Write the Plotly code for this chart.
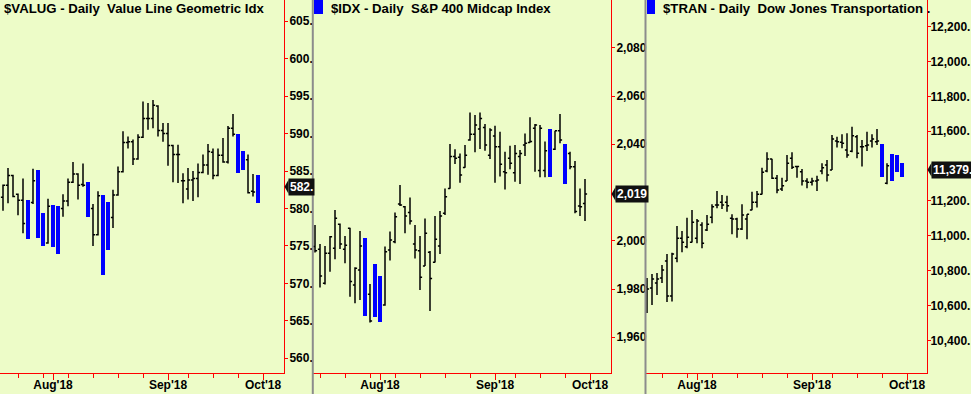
import plotly.graph_objects as go

# ---------------- data ----------------
axis_dates = [
    "2018-07-13", "2018-07-16", "2018-07-17", "2018-07-18", "2018-07-19", "2018-07-20",
    "2018-07-23", "2018-07-24", "2018-07-25", "2018-07-26", "2018-07-27", "2018-07-30",
    "2018-07-31", "2018-08-01", "2018-08-02", "2018-08-03", "2018-08-06", "2018-08-07",
    "2018-08-08", "2018-08-09", "2018-08-10", "2018-08-13", "2018-08-14", "2018-08-15",
    "2018-08-16", "2018-08-17", "2018-08-20", "2018-08-21", "2018-08-22", "2018-08-23",
    "2018-08-24", "2018-08-27", "2018-08-28", "2018-08-29", "2018-08-30", "2018-08-31",
    "2018-09-04", "2018-09-05", "2018-09-06", "2018-09-07", "2018-09-10", "2018-09-11",
    "2018-09-12", "2018-09-13", "2018-09-14", "2018-09-17", "2018-09-18", "2018-09-19",
    "2018-09-20", "2018-09-21", "2018-09-24", "2018-09-25", "2018-09-26", "2018-09-27",
    "2018-09-28", "2018-10-01", "2018-10-02", "2018-10-03", "2018-10-04", "2018-10-05",
]
month_tick_dates = ["2018-08-01", "2018-09-04", "2018-10-01"]
month_tick_labels = ["Aug'18", "Sep'18", "Oct'18"]
week_tick_dates = ["2018-07-16", "2018-07-23", "2018-07-30", "2018-08-06", "2018-08-13",
                   "2018-08-20", "2018-08-27", "2018-09-10", "2018-09-17", "2018-09-24"]

# $VALUG  (starts 2018-07-18)
valug_start = "2018-07-18"
valug_open = [581.5, 583.1, 584.4, 581.9, 581.1, 580.8, 580.8, 584.6, 579.0, 575.4,
              580.1, 579.8, 580.0, 581.0, 583.5, 584.6, 583.2, 583.1, 580.0, 576.5,
              581.2, 580.3, 578.8, 581.8, 584.9, 588.8, 588.9, 586.6, 589.5, 592.0,
              592.0, 593.7, 590.4, 590.0, 588.4, 587.2, 583.7, 582.6, 583.8, 584.0,
              584.8, 585.8, 587.5, 584.4, 587.1, 586.2, 590.7, 589.6, 587.4, 586.5,
              582.3, 584.2]
valug_high = [583.2, 585.4, 584.5, 582.0, 584.0, 581.1, 585.3, 585.1, 579.4, 581.3,
              580.5, 580.3, 581.9, 584.0, 586.2, 584.7, 586.0, 583.5, 580.6, 582.3,
              581.8, 580.9, 582.5, 585.6, 590.3, 589.6, 589.2, 589.9, 594.3, 594.1,
              594.5, 593.8, 591.4, 591.4, 588.5, 588.5, 584.7, 585.4, 585.0, 586.0,
              587.2, 588.6, 588.0, 588.0, 589.4, 591.0, 592.6, 590.0, 587.7, 587.2,
              584.6, 584.5]
valug_low = [579.7, 580.7, 581.5, 579.1, 576.7, 575.9, 580.6, 576.1, 575.0, 575.3,
             574.9, 573.9, 578.9, 580.3, 583.4, 581.2, 582.9, 578.8, 575.0, 576.4,
             571.1, 574.4, 577.4, 581.7, 584.8, 588.0, 585.8, 586.5, 589.4, 590.5,
             590.7, 589.6, 588.9, 585.7, 583.5, 583.4, 580.7, 581.2, 581.0, 581.5,
             584.7, 584.5, 583.9, 584.3, 586.1, 586.0, 589.6, 584.8, 585.2, 582.0,
             581.6, 580.7]
valug_close = [583.1, 584.4, 581.6, 581.1, 578.0, 576.3, 583.7, 576.6, 575.4, 580.3,
               575.3, 574.4, 581.0, 583.5, 584.6, 583.1, 583.1, 579.2, 576.5, 581.7,
               571.8, 575.0, 581.8, 584.9, 588.8, 588.9, 586.6, 589.5, 592.0, 592.0,
               593.8, 590.4, 590.0, 588.4, 587.2, 587.2, 583.7, 583.8, 584.0, 584.8,
               585.8, 587.6, 584.4, 587.1, 586.2, 590.7, 589.9, 585.3, 585.6, 582.1,
               582.2, 582.9]
valug_blue = [0, 0, 0, 0, 0, 1, 0, 1, 1, 0, 1, 1, 0, 0, 0, 0, 0, 1, 0, 0,
              1, 1, 0, 0, 0, 0, 0, 0, 0, 0, 0, 0, 0, 0, 0, 0, 0, 0, 0, 0,
              0, 0, 0, 0, 0, 0, 0, 1, 1, 0, 0, 1]

# $IDX  (starts 2018-07-13)
idx_start = "2018-07-13"
idx_open = [1997.6, 1996.5, 1982.4, 1994.8, 1996.9, 2006.9, 1996.5, 2005.2, 1981.7, 1987.9,
            2000.5, 1977.8, 1989.5, 1984.5, 1973.4, 1996.2, 1999.6, 2015.2, 2014.1, 2011.7,
            1998.7, 1995.9, 1989.6, 1995.2, 1991.1, 1997.8, 2011.4, 2021.7, 2034.9, 2034.6,
            2030.4, 2041.8, 2044.2, 2046.3, 2047.0, 2035.5, 2043.4, 2039.0, 2028.6, 2034.2,
            2028.2, 2034.9, 2039.7, 2040.7, 2046.6, 2029.1, 2029.1, 2045.5, 2037.9, 2045.6,
            2039.5, 2036.2, 2030.7, 2014.4, 2015.5]
idx_high = [2006.5, 1998.7, 1997.8, 2002.0, 2012.8, 2007.2, 2002.0, 2005.4, 1989.0, 2004.1,
            2001.3, 1982.1, 1990.4, 1985.4, 1997.6, 2003.8, 2011.7, 2023.1, 2014.4, 2017.9,
            2006.5, 2002.0, 2009.2, 1995.8, 2010.3, 2012.3, 2021.7, 2040.1, 2037.9, 2036.2,
            2039.7, 2053.2, 2052.1, 2053.2, 2048.4, 2046.6, 2047.7, 2045.2, 2036.9, 2039.4,
            2039.7, 2037.6, 2044.5, 2051.2, 2048.4, 2048.0, 2041.1, 2046.3, 2045.6, 2052.5,
            2040.1, 2036.9, 2033.1, 2021.7, 2025.6]
idx_low = [1995.1, 1980.6, 1981.9, 1987.2, 1992.3, 1996.6, 1990.7, 1976.8, 1974.1, 1975.5,
           1969.0, 1966.1, 1968.6, 1966.5, 1973.1, 1991.8, 1999.0, 2014.4, 2003.1, 2006.8,
           1992.7, 1979.6, 1989.5, 1970.9, 1991.0, 1994.5, 2010.7, 2021.6, 2031.8, 2024.1,
           2030.3, 2041.5, 2036.7, 2038.0, 2037.3, 2033.9, 2024.1, 2026.6, 2021.3, 2029.6,
           2024.5, 2023.5, 2035.1, 2040.6, 2028.6, 2026.3, 2026.3, 2026.6, 2037.6, 2040.4,
           2023.4, 2029.6, 2011.4, 2010.3, 2008.2]
idx_close = [1995.9, 1985.4, 1994.8, 2001.7, 2009.3, 1998.7, 1998.1, 1983.1, 1988.6, 1997.8,
             1970.0, 1966.8, 1969.5, 1967.5, 1995.5, 2000.3, 2010.0, 2014.8, 2010.3, 2008.2,
             1996.2, 1984.9, 2003.1, 1984.4, 2000.6, 2010.3, 2018.3, 2034.9, 2034.2, 2027.3,
             2035.5, 2044.2, 2048.0, 2050.7, 2039.7, 2045.9, 2039.0, 2031.7, 2028.2, 2032.1,
             2036.2, 2036.2, 2040.4, 2041.1, 2048.0, 2046.6, 2037.3, 2027.5, 2045.6, 2041.8,
             2024.2, 2030.7, 2012.1, 2014.1, 2019.4]
idx_blue = [0, 0, 0, 0, 0, 0, 0, 0, 0, 0, 1, 0, 1, 1, 0, 0, 0, 0, 0, 0,
            0, 0, 0, 0, 0, 0, 0, 0, 0, 0, 0, 0, 0, 0, 0, 0, 0, 0, 0, 0,
            0, 0, 0, 0, 0, 0, 0, 1, 0, 0, 1, 0, 0, 0, 0]

# $TRAN  (starts 2018-07-18)
tran_start = "2018-07-18"
tran_open = [10706, 10700, 10729, 10758, 10855, 10654, 10871, 10986, 10937, 10963,
             10986, 11062, 11033, 11106, 11177, 11192, 11192, 11100, 11096, 11039,
             11096, 11148, 11192, 11238, 11372, 11441, 11330, 11269, 11315, 11445,
             11397, 11368, 11315, 11307, 11315, 11372, 11406, 11378, 11544, 11537,
             11492, 11485, 11569, 11511, 11517, 11544, 11540, 11520, 11301, 11462,
             11458, 11410]
tran_high = [10758, 10781, 10786, 10832, 10895, 10903, 11056, 11027, 11104, 11148,
             11096, 11077, 11119, 11181, 11257, 11234, 11230, 11123, 11104, 11181,
             11123, 11253, 11257, 11391, 11479, 11442, 11349, 11333, 11464, 11479,
             11402, 11383, 11330, 11333, 11345, 11416, 11435, 11578, 11569, 11583,
             11588, 11626, 11578, 11550, 11597, 11583, 11613, 11525, 11416, 11468,
             11464, 11416]
tran_low = [10557, 10603, 10660, 10729, 10620, 10622, 10848, 10905, 10928, 10962,
            10957, 10928, 11027, 11072, 11158, 11154, 11138, 11009, 10989, 11033,
            10980, 11147, 11162, 11237, 11364, 11326, 11244, 11257, 11314, 11383,
            11333, 11288, 11273, 11288, 11257, 11353, 11311, 11377, 11506, 11502,
            11448, 11479, 11445, 11397, 11487, 11506, 11521, 11339, 11296, 11314,
            11364, 11339]
tran_close = [10695, 10752, 10752, 10804, 10654, 10895, 10986, 10963, 10991, 11077,
              11085, 10957, 11066, 11167, 11177, 11177, 11173, 11096, 11039, 11119,
              11123, 11192, 11238, 11364, 11441, 11330, 11263, 11287, 11416, 11393,
              11397, 11315, 11307, 11315, 11320, 11391, 11349, 11556, 11540, 11531,
              11464, 11574, 11473, 11511, 11521, 11556, 11544, 11345, 11402, 11320,
              11370, 11379]
tran_blue = [0] * 47 + [1, 0, 1, 1, 1]

# tick values shown on each price axis (the level hidden behind the last-price tag is omitted)
valug_ticks = [560, 565, 570, 575, 580, 585, 590, 595, 600, 605]
idx_ticks = [1960, 1980, 2000, 2040, 2060, 2080]
tran_ticks = [10400, 10600, 10800, 11000, 11200, 11600, 11800, 12000, 12200]

titles = ["$VALUG - Daily\u00a0\u00a0Value Line Geometric Idx",
          "$IDX - Daily\u00a0\u00a0S&amp;P 400 Midcap Index",
          "$TRAN - Daily\u00a0\u00a0Dow Jones Transportation ."]
last_labels = ["582.", "2,019", "11,379."]

# ---------------- layout constants ----------------
W, H = 971, 394
BG = "#EDFCC8"
RED = "#FF0000"
BLUE = "#0000FF"
FONT = "Liberation Sans, Arial, sans-serif"
plot_bottom = 373
panels = [
    dict(x0=0, x1=284, xr=[2.4, 59.2], yr=[558.03, 607.84]),
    dict(x0=313, x1=611, xr=[-0.4, 59.2], yr=[1945.2, 2099.8]),
    dict(x0=646, x1=927, xr=[2.8, 59.0], yr=[10212.3, 12353.3]),
]

series = [
    (valug_start, valug_open, valug_high, valug_low, valug_close, valug_blue, valug_ticks,
     [f"{v}." for v in valug_ticks]),
    (idx_start, idx_open, idx_high, idx_low, idx_close, idx_blue, idx_ticks,
     [f"{v:,}" for v in idx_ticks]),
    (tran_start, tran_open, tran_high, tran_low, tran_close, tran_blue, tran_ticks,
     [f"{v:,}." for v in tran_ticks]),
]
label_standoff = [-1, -1, -3]

fig = go.Figure()
month_pos = [axis_dates.index(d) for d in month_tick_dates]
week_pos = [axis_dates.index(d) for d in week_tick_dates]

shapes = []
annotations = []
for k, (start, o, h, l, c, blue, yt, ytt) in enumerate(series):
    s = axis_dates.index(start)
    xs = list(range(s, s + len(o)))
    xa = "x" if k == 0 else f"x{k+1}"
    ya = "y" if k == 0 else f"y{k+1}"
    nb = [i for i in range(len(o)) if not blue[i]]
    bb = [i for i in range(len(o)) if blue[i]]
    fig.add_trace(go.Ohlc(
        x=[xs[i] for i in nb], open=[o[i] for i in nb], high=[h[i] for i in nb],
        low=[l[i] for i in nb], close=[c[i] for i in nb],
        increasing=dict(line=dict(color="black", width=1.5)),
        decreasing=dict(line=dict(color="black", width=1.5)),
        tickwidth=0.42, hoverinfo="skip", showlegend=False, xaxis=xa, yaxis=ya))
    fig.add_trace(go.Bar(
        x=[xs[i] for i in bb], base=[l[i] for i in bb],
        y=[h[i] - l[i] for i in bb], width=0.62,
        marker=dict(color=BLUE, line=dict(width=0)),
        hoverinfo="skip", showlegend=False, xaxis=xa, yaxis=ya))

    p = panels[k]
    xdom = [p["x0"] / W, p["x1"] / W]
    ydom = [(H - plot_bottom) / H, 1]
    xkey = "xaxis" if k == 0 else f"xaxis{k+1}"
    ykey = "yaxis" if k == 0 else f"yaxis{k+1}"
    fig.update_layout({
        xkey: dict(domain=xdom, range=p["xr"], anchor=ya, showgrid=False, zeroline=False,
                   showline=True, linecolor=RED, linewidth=1, ticks="outside",
                   tickcolor=RED, ticklen=6, tickwidth=1, tickmode="array",
                   tickvals=month_pos, ticktext=month_tick_labels, ticklabelstandoff=-5,
                   tickfont=dict(family=FONT, size=12, color="black", weight="bold"),
                   minor=dict(tickmode="array", tickvals=week_pos, ticks="outside",
                              ticklen=4, tickcolor=RED, tickwidth=1, showgrid=False),
                   rangeslider=dict(visible=False), fixedrange=True, automargin=False),
        ykey: dict(domain=ydom, range=p["yr"], anchor=xa, side="right", showgrid=False,
                   zeroline=False, showline=True, linecolor=RED, linewidth=1,
                   ticks="outside", tickcolor=RED, ticklen=3, tickwidth=1,
                   tickmode="array", tickvals=yt, ticktext=ytt,
                   ticklabelstandoff=label_standoff[k],
                   tickfont=dict(family=FONT, size=12, color="black", weight="bold"),
                   fixedrange=True, automargin=False),
    })

    # panel title
    tx = p["x0"] + (2 if k == 0 else (16 if k == 1 else 15))
    annotations.append(dict(text=titles[k], xref="paper", yref="paper", x=tx / W, y=1,
                            xanchor="left", yanchor="top", showarrow=False, yshift=1,
                            font=dict(family=FONT, size=13.2, color="black", weight="bold")))

    # last price tag
    last = c[-1]
    px_per_unit = plot_bottom / (p["yr"][1] - p["yr"][0])
    dh = 7 / px_per_unit
    xb = (p["x1"] + 4) / W
    xt = (p["x1"] + 0.5) / W
    annotations.append(dict(text=last_labels[k], xref="paper", yref=ya, x=xb, y=last,
                            xanchor="left", yanchor="middle", showarrow=False,
                            bgcolor="#111111", borderpad=1,
                            font=dict(family=FONT, size=12, color="white", weight="bold")))
    shapes.append(dict(type="path", xref="paper", yref=ya,
                       path=f"M {xt},{last} L {xb + 0.5 / W},{last + dh} L {xb + 0.5 / W},{last - dh} Z",
                       fillcolor="#111111", line=dict(width=0), layer="above"))

# panel dividers
for xpx in (312.8, 645.5):
    shapes.append(dict(type="line", xref="paper", yref="paper", x0=xpx / W, x1=xpx / W,
                       y0=0, y1=1, line=dict(color="#8C8C8C", width=2), layer="above"))
# small blue markers at the top-left of panels 2 and 3
for (a, b) in ((314, 323), (647, 655)):
    shapes.append(dict(type="rect", xref="paper", yref="paper", x0=a / W, x1=b / W,
                       y0=1 - 14 / H, y1=1, fillcolor=BLUE, line=dict(width=0), layer="above"))

fig.update_layout(
    width=W, height=H, margin=dict(l=0, r=0, t=0, b=0),
    paper_bgcolor=BG, plot_bgcolor=BG, hovermode=False, showlegend=False,
    shapes=shapes, annotations=annotations, bargap=0,
)

fig.write_html(
    "out.html",
    config={"displayModeBar": False},
    post_script="document.body.style.margin='0';document.body.style.padding='0';"
                "document.documentElement.style.overflow='hidden';",
)
